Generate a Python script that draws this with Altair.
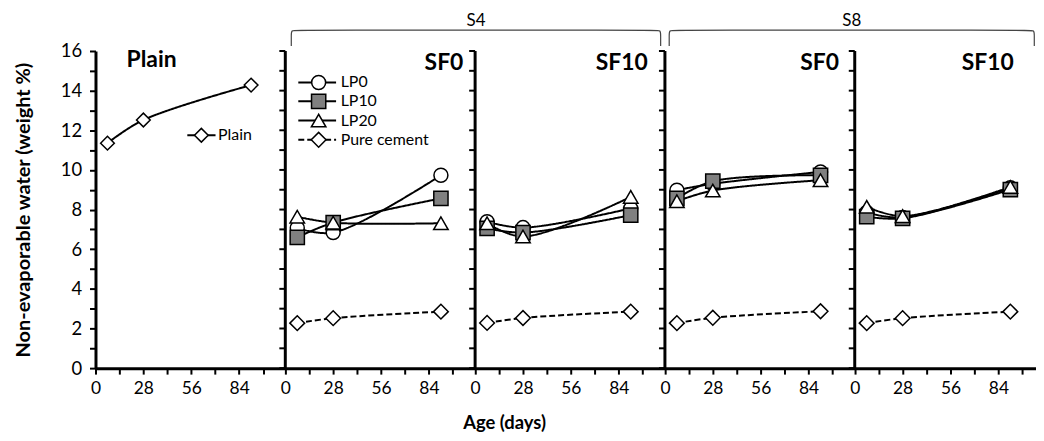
import altair as alt
import pandas as pd

# ---------------- data ----------------
ages = [7, 28, 91]
plain = [11.35, 12.52, 14.28]

s4_sf0_lp0 = [7.07, 6.84, 9.73]
s4_sf0_lp10 = [6.60, 7.34, 8.56]
s4_sf0_lp20 = [7.64, 7.34, 7.31]
s4_sf0_pure = [2.27, 2.52, 2.85]

s4_sf10_lp0 = [7.39, 7.09, 8.06]
s4_sf10_lp10 = [7.05, 6.84, 7.72]
s4_sf10_lp20 = [7.31, 6.64, 8.64]
s4_sf10_pure = [2.28, 2.53, 2.85]

s8_sf0_lp0 = [8.98, 9.30, 9.90]
s8_sf0_lp10 = [8.56, 9.43, 9.73]
s8_sf0_lp20 = [8.42, 8.96, 9.48]
s8_sf0_pure = [2.27, 2.54, 2.87]

s8_sf10_lp0 = [7.85, 7.60, 9.10]
s8_sf10_lp10 = [7.64, 7.56, 9.01]
s8_sf10_lp20 = [8.14, 7.67, 9.14]
s8_sf10_pure = [2.27, 2.52, 2.85]

panel_titles = ["Plain", "SF0", "SF10", "SF0", "SF10"]
group_labels = ["S4", "S8"]
series_names = ["LP0", "LP10", "LP20", "Pure cement"]
x_tick_labels = [0, 28, 56, 84]

# ---------------- layout constants ----------------
P = 111          # width of one panel in day units
XMAX = 550
W, H = 946, 319

all_series = ["Plain", "LP0", "LP10", "LP20", "Pure cement"]
shape_range = ["diamond", "circle", "square", "triangle-up", "diamond"]
fill_range = ["white", "white", "#808080", "white", "white"]
size_range = [190, 220, 180, 250, 190]
dash_range = [[1, 0], [1, 0], [1, 0], [1, 0], [6, 3]]

panels = [
    {"Plain": plain},
    {"LP0": s4_sf0_lp0, "LP10": s4_sf0_lp10, "LP20": s4_sf0_lp20, "Pure cement": s4_sf0_pure},
    {"LP0": s4_sf10_lp0, "LP10": s4_sf10_lp10, "LP20": s4_sf10_lp20, "Pure cement": s4_sf10_pure},
    {"LP0": s8_sf0_lp0, "LP10": s8_sf0_lp10, "LP20": s8_sf0_lp20, "Pure cement": s8_sf0_pure},
    {"LP0": s8_sf10_lp0, "LP10": s8_sf10_lp10, "LP20": s8_sf10_lp20, "Pure cement": s8_sf10_pure},
]

line_rows, point_rows = [], []
for k, p in enumerate(panels):
    for s, vals in p.items():
        for a, v in zip(ages, vals):
            r = dict(x=k * P + a, v=v, series=s, grp=f"{k}|{s}")
            line_rows.append(r)
            point_rows.append(r)

# legends (drawn inside the panels)
leg_y = [14.41, 13.46, 12.49, 11.52]
for s, y in zip(series_names, leg_y):
    line_rows += [dict(x=P + 7.6, v=y, series=s, grp="leg|" + s),
                  dict(x=P + 29.7, v=y, series=s, grp="leg|" + s)]
    point_rows.append(dict(x=P + 19.5, v=y, series=s, grp="leg|" + s))
line_rows += [dict(x=53.7, v=11.75, series="Plain", grp="leg|Plain"),
              dict(x=70.2, v=11.75, series="Plain", grp="leg|Plain")]
point_rows.append(dict(x=61.9, v=11.75, series="Plain", grp="leg|Plain"))

leg_text = pd.DataFrame(
    [dict(x=P + 31.8, v=y, label=s) for s, y in zip(series_names, leg_y)]
    + [dict(x=71.1, v=11.75, label="Plain")]
)

lines_df = pd.DataFrame(line_rows)
points_df = pd.DataFrame(point_rows)

title_x = [32.8, P + 92.8, 2 * P + 85.8, 3 * P + 90.5, 4 * P + 77.8]
title_y = [15.2, 15.02, 15.02, 15.02, 15.02]
titles_df = pd.DataFrame(dict(x=title_x, v=title_y, label=panel_titles))

bounds = [P, 2 * P, 3 * P, 4 * P]
bound_df = pd.DataFrame(dict(x=bounds, v=[0] * 4, v2=[16] * 4))
tick_df = pd.DataFrame([dict(x=b, v=t) for b in bounds for t in range(0, 17)])

spans = [(P + 3.5, 3 * P - 2.5), (3 * P + 2.5, 5 * P - 6)]
br_rows = []
for g, (L, R) in zip(group_labels, spans):
    pts = [(L, 16.25), (L, 16.82), (L, 17.05), (L + 3, 17.05), (R - 3, 17.05),
           (R, 17.05), (R, 16.82), (R, 16.25)]
    for i, (xx, yy) in enumerate(pts):
        br_rows.append(dict(x=xx, v=yy, grp=g, o=i))
br_df = pd.DataFrame(br_rows)
grp_df = pd.DataFrame(dict(x=[(a + b) / 2 for a, b in spans], v=[17.5, 17.5], label=group_labels))

# ---------------- axes ----------------
xvals = [k * P + m * 14 for k in range(5) for m in range(8) if k * P + m * 14 <= XMAX]
xaxis = alt.Axis(
    values=xvals,
    labelExpr=f"indexof({x_tick_labels}, datum.value % {P}) >= 0 ? '' + (datum.value % {P}) : ''",
    tickSize=6, tickWidth=2, tickColor="black", domainWidth=3, domainColor="black",
    labelFontSize=17.5, labelColor="black", labelPadding=6, labelOverlap=False, labelFlush=False,
    grid=False, title="Age (days)", titleFontSize=18.5, titleFontWeight="bold", titleColor="black",
    titleX=411, titleY=55, titleBaseline="middle", titleAlign="center",
)
yaxis = alt.Axis(
    values=list(range(0, 17)),
    labelExpr="datum.value % 2 == 0 ? datum.label : ''",
    tickSize=6, tickWidth=2, tickColor="black", domainWidth=3, domainColor="black",
    labelFontSize=18.5, labelColor="black", labelPadding=8, labelOverlap=False, grid=False,
    title="Non-evaporable water (weight %)", titleFontSize=20, titleFontWeight="bold",
    titleColor="black", titleX=-72, titleY=H / 2, titleAngle=270, titleAlign="center",
    titleBaseline="middle",
)

X = alt.X("x:Q", scale=alt.Scale(domain=[0, XMAX], nice=False, zero=False), axis=xaxis)
Y = alt.Y("v:Q", scale=alt.Scale(domain=[0, 16], nice=False), axis=yaxis)

lines = alt.Chart(lines_df).mark_line(interpolate="catmull-rom", color="black", strokeWidth=2).encode(
    x=X, y=Y, detail="grp:N",
    strokeDash=alt.StrokeDash("series:N", scale=alt.Scale(domain=all_series, range=dash_range), legend=None),
)
points = alt.Chart(points_df).mark_point(filled=True, stroke="black", strokeWidth=1.5, opacity=1).encode(
    x=X, y=Y,
    shape=alt.Shape("series:N", scale=alt.Scale(domain=all_series, range=shape_range), legend=None),
    fill=alt.Fill("series:N", scale=alt.Scale(domain=all_series, range=fill_range), legend=None),
    size=alt.Size("series:N", scale=alt.Scale(domain=all_series, range=size_range), legend=None),
)
bound_rules = alt.Chart(bound_df).mark_rule(color="black", strokeWidth=3).encode(x=X, y=Y, y2=alt.Y2("v2"))
bound_ticks = alt.Chart(tick_df).mark_rule(color="black", strokeWidth=2, x2Offset=-6).encode(
    x=X, x2=alt.X2("x"), y=Y)
titles = alt.Chart(titles_df).mark_text(fontWeight="bold", fontSize=23, baseline="alphabetic",
                                        align="center", color="black").encode(x=X, y=Y, text="label:N")
legend_txt = alt.Chart(leg_text).mark_text(fontSize=16, baseline="middle", align="left", dx=1,
                                           color="black").encode(x=X, y=Y, text="label:N")
brackets = alt.Chart(br_df).mark_line(interpolate="basis", color="#444444", strokeWidth=1.2).encode(
    x=X, y=Y, detail="grp:N", order="o:Q")
grp_txt = alt.Chart(grp_df).mark_text(fontSize=17, baseline="middle", align="center",
                                      color="black").encode(x=X, y=Y, text="label:N")

chart = alt.layer(
    bound_rules, bound_ticks, lines, points, titles, legend_txt, brackets, grp_txt
).properties(
    width=W, height=H,
    autosize=alt.AutoSizeParams(type="none"),
    padding={"left": 88, "top": 42, "right": 0, "bottom": 64},
).configure(font="Lato").configure_view(stroke=None)

chart.save("out.html", embed_options={"renderer": "svg", "actions": False})
